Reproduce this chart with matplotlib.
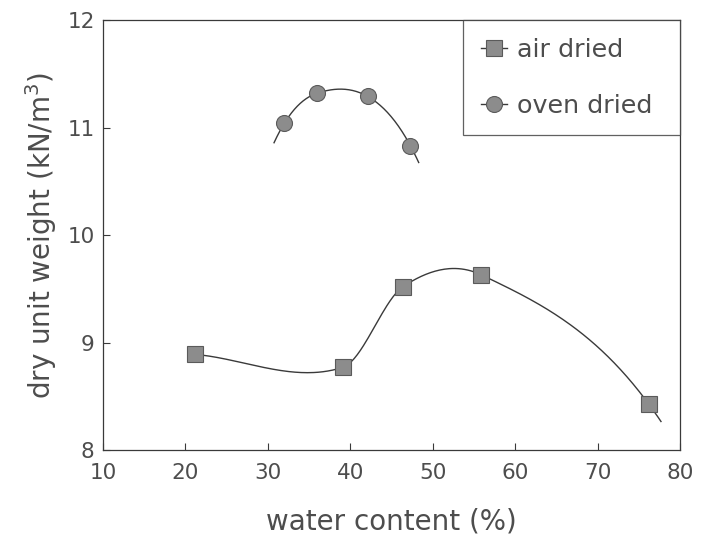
"""Dry unit weight vs water content, air dried and oven dried samples."""
import numpy as np
import matplotlib
matplotlib.use("Agg")
import matplotlib.pyplot as plt
from matplotlib.lines import Line2D

# measured points
air_w = [21.2, 39.1, 46.4, 55.9, 76.2]
air_gd = [8.89, 8.77, 9.52, 9.63, 8.43]
oven_w = [32.0, 36.0, 42.1, 47.3]
oven_gd = [11.04, 11.32, 11.29, 10.83]

# range covered by each smoothed curve
air_span = (21.2, 77.7)
oven_span = (30.75, 48.3)

INK = "#3a3a3a"
TXT = "#4d4d4d"


def hermite(x, y, xs, k_left=3.0, k_right=3.0):
    """Cubic Hermite curve through (x, y); end slopes k*s - (k-1)*m_next."""
    x = np.asarray(x, float); y = np.asarray(y, float)
    n = len(x); h = np.diff(x); s = np.diff(y) / h
    m = np.empty(n)
    m[1:-1] = (y[2:] - y[:-2]) / (x[2:] - x[:-2])
    m[0] = k_left * s[0] - (k_left - 1) * m[1]
    m[-1] = k_right * s[-1] - (k_right - 1) * m[-2]
    i = np.clip(np.searchsorted(x, xs) - 1, 0, n - 2)
    t = (xs - x[i]) / h[i]
    return ((2*t**3 - 3*t**2 + 1) * y[i] + (t**3 - 2*t**2 + t) * h[i] * m[i]
            + (-2*t**3 + 3*t**2) * y[i+1] + (t**3 - t**2) * h[i] * m[i+1])


plt.rcParams["font.family"] = ["DejaVu Sans"]

fig = plt.figure(figsize=(7.14, 5.41), dpi=100)
ax = fig.add_axes([0.1443, 0.168, 0.808, 0.795])

xa = np.linspace(*air_span, 300)
ax.plot(xa, hermite(air_w, air_gd, xa, k_left=1.0), color=INK, lw=1.0)
xo = np.linspace(*oven_span, 200)
ax.plot(xo, hermite(oven_w, oven_gd, xo, k_left=2.2, k_right=2.2),
        color=INK, lw=1.0)

mk = dict(markersize=11.5, markerfacecolor="#8c8c8c",
          markeredgecolor="#5a5a5a", markeredgewidth=0.8)
ax.plot(air_w, air_gd, marker="s", linestyle="none", **mk)
ax.plot(oven_w, oven_gd, marker="o", linestyle="none", **mk)

ax.set_xlim(10, 80)
ax.set_ylim(8, 12)
ax.set_xticks(range(10, 81, 10))
ax.set_yticks(range(8, 13))
ax.tick_params(direction="in", length=5, width=0.8, color=INK,
               labelsize=15.5, labelcolor=TXT)
ax.tick_params(axis="x", pad=9)
ax.tick_params(axis="y", pad=6)
for sp in ax.spines.values():
    sp.set_color(INK); sp.set_linewidth(0.9)

ax.set_xlabel("water content (%)", fontsize=20, color=TXT, labelpad=18)
ax.set_ylabel("dry unit weight (kN/m$^3$)", fontsize=20, color=TXT,
              labelpad=6)

handles = [Line2D([], [], color=INK, lw=1.0, marker="s", **mk),
           Line2D([], [], color=INK, lw=1.0, marker="o", **mk)]
leg = ax.legend(handles, ["air dried", "oven dried"], loc="upper right",
                bbox_to_anchor=(0.624, 0.0, 0.376, 1.0), mode="expand",
                borderaxespad=0, fancybox=False, fontsize=18.3,
                handlelength=1.02, handletextpad=0.4, labelspacing=1.25,
                borderpad=0.7, labelcolor=TXT)
leg.get_frame().set_edgecolor(INK)
leg.get_frame().set_linewidth(0.9)

fig.savefig("out.png", dpi=100)
